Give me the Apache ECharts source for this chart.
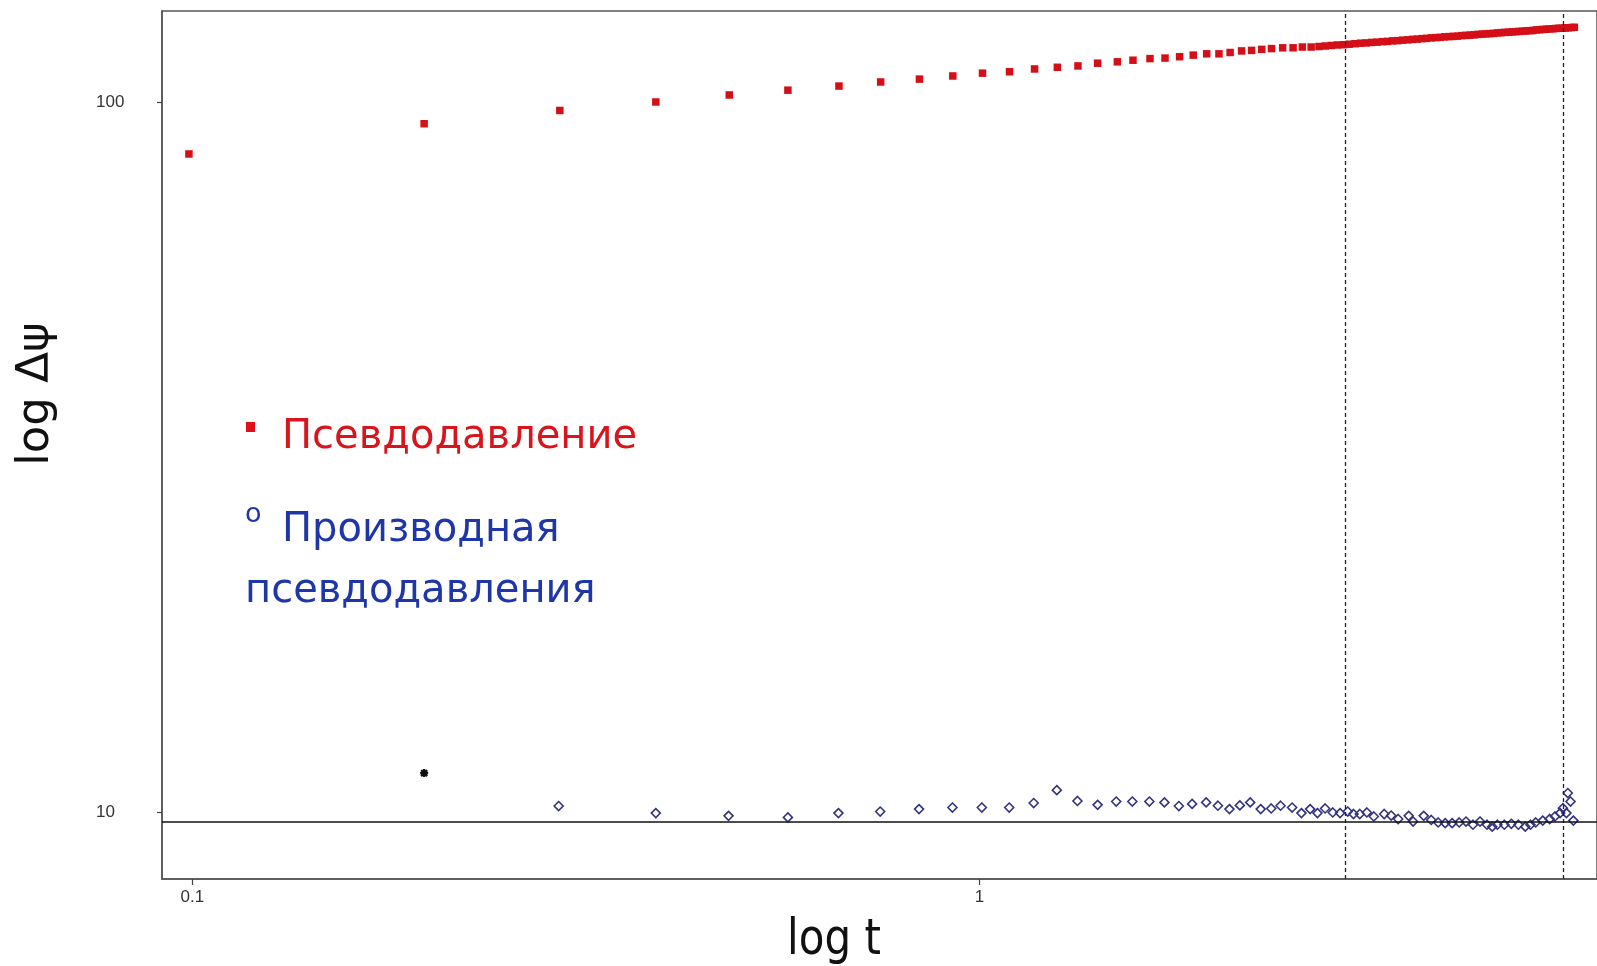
<!DOCTYPE html>
<html>
<head>
<meta charset="utf-8">
<title>log Δψ – log t</title>
<script src="https://cdn.jsdelivr.net/npm/echarts@6.0.0/dist/echarts.min.js"></script>
<style>
  html, body { margin: 0; padding: 0; background: #fff; }
  #main { width: 1597px; height: 966px; }
</style>
</head>
<body>
<div id="main"></div>
<script>
  // псевдодавление (красные квадраты)
  var tPress = [0.099, 0.197, 0.293, 0.388, 0.481, 0.571, 0.663, 0.749, 0.839, 0.925,
    1.009, 1.092, 1.175, 1.256, 1.334, 1.413, 1.497, 1.567, 1.647, 1.721,
    1.796, 1.869, 1.944, 2.015, 2.082, 2.153, 2.217, 2.284, 2.350, 2.428,
    2.503, 2.572, 2.639,
    2.70, 2.75, 2.80, 2.85, 2.90, 2.95, 3.00, 3.05, 3.10, 3.15,
    3.20, 3.25, 3.30, 3.35, 3.40, 3.45, 3.50, 3.55, 3.60, 3.65,
    3.70, 3.75, 3.80, 3.85, 3.90, 3.95, 4.00, 4.05, 4.10, 4.15,
    4.20, 4.25, 4.30, 4.35, 4.40, 4.45, 4.50, 4.55, 4.60, 4.65,
    4.70, 4.75, 4.80, 4.85, 4.90, 4.95, 5.00, 5.05, 5.10, 5.15,
    5.20, 5.25, 5.30, 5.35, 5.40, 5.45, 5.50, 5.55, 5.60, 5.65, 5.70];
  var pPress = [84.5, 93.2, 97.3, 100.0, 102.3, 103.9, 105.3, 106.7, 107.7, 108.8,
    109.8, 110.3, 111.3, 111.9, 112.4, 113.4, 113.9, 114.5, 115.1, 115.3,
    115.8, 116.4, 116.9, 116.9, 117.4, 118.0, 118.2, 118.6, 118.9, 119.2,
    119.2, 119.5, 119.5,
    119.7, 119.9, 120.1, 120.3, 120.4, 120.6, 120.8, 121.0, 121.1, 121.3,
    121.4, 121.6, 121.7, 121.9, 122.0, 122.2, 122.3, 122.5, 122.6, 122.8,
    122.9, 123.1, 123.2, 123.3, 123.5, 123.6, 123.7, 123.8, 124.0, 124.1,
    124.2, 124.3, 124.5, 124.6, 124.7, 124.8, 124.9, 125.1, 125.2, 125.3,
    125.4, 125.5, 125.6, 125.7, 125.8, 125.9, 126.0, 126.1, 126.3, 126.4,
    126.5, 126.6, 126.7, 126.8, 126.9, 127.0, 127.0, 127.1, 127.2, 127.3, 127.4];

  // производная псевдодавления (ромбы)
  var tDeriv = [0.292, 0.388, 0.480, 0.571, 0.662, 0.748, 0.838, 0.924, 1.007, 1.091,
    1.172, 1.254, 1.332, 1.413, 1.492, 1.564, 1.644, 1.718, 1.792, 1.863,
    1.941, 2.009, 2.078, 2.142, 2.208, 2.277, 2.348, 2.413, 2.496, 2.565,
    2.631, 2.688, 2.749, 2.811, 2.872, 2.937, 2.987, 3.043, 3.106, 3.170,
    3.268, 3.335, 3.404, 3.510, 3.556, 3.668, 3.750, 3.827, 3.906, 3.986,
    4.069, 4.151, 4.237, 4.325, 4.415, 4.482, 4.550, 4.644, 4.740, 4.839,
    4.937, 5.013, 5.090, 5.196, 5.303, 5.385, 5.467, 5.512, 5.569, 5.591,
    5.636, 5.683];
  var dDeriv = [10.21, 9.98, 9.89, 9.84, 9.98, 10.03, 10.11, 10.16, 10.16, 10.16,
    10.31, 10.75, 10.38, 10.25, 10.36, 10.36, 10.36, 10.33, 10.21, 10.28,
    10.33, 10.22, 10.11, 10.23, 10.33, 10.11, 10.13, 10.22, 10.16, 9.98,
    10.11, 9.98, 10.13, 10.00, 9.98, 10.03, 9.95, 9.95, 10.00, 9.87,
    9.95, 9.90, 9.79, 9.89, 9.71, 9.89, 9.76, 9.68, 9.66, 9.66,
    9.68, 9.71, 9.61, 9.71, 9.61, 9.55, 9.61, 9.61, 9.64, 9.61,
    9.55, 9.61, 9.68, 9.74, 9.79, 9.87, 9.98, 10.14, 9.98, 10.65,
    10.36, 9.74];

  // отдельная чёрная точка производной
  var tStar = [0.197];
  var dStar = [11.36];

  // вертикальные пунктиры и горизонтальная линия
  var vLines = [2.92, 5.52];
  var hLines = [9.71];

  var xTicks = [0.1, 1];
  var yTicks = [10, 100];

  function zip(a, b) {
    return a.map(function (v, i) { return [v, b[i]]; });
  }

  var markData = vLines.map(function (v) {
    return {xAxis: v, lineStyle: {type: [4, 3], color: '#222', width: 1.3}};
  }).concat(hLines.map(function (v) {
    return {yAxis: v, lineStyle: {type: 'solid', color: '#111', width: 1.5}};
  }));

  var redText = '#d8141c';
  var blueText = '#1e36a8';

  var myChart = echarts.init(document.getElementById('main'));
  myChart.setOption({
    animation: false,
    backgroundColor: '#fff',
    grid: {
      left: 162,
      right: -3,
      top: 11,
      bottom: 87,
      show: true,
      borderColor: '#555',
      borderWidth: 1.5
    },
    xAxis: {
      type: 'log',
      logBase: 10,
      min: 0.0915,
      max: 6.09,
      axisLine: {show: true, lineStyle: {color: '#555', width: 1.5}},
      axisTick: {show: true, customValues: xTicks, length: 6, lineStyle: {color: '#444', width: 1.2}},
      axisLabel: {
        customValues: xTicks,
        margin: 10,
        color: '#333',
        fontFamily: 'Liberation Sans',
        fontSize: 17,
        formatter: function (v) { return v >= 1 ? v.toFixed(0) : v.toFixed(1); }
      },
      splitLine: {show: false},
      minorTick: {show: false}
    },
    yAxis: {
      type: 'log',
      logBase: 10,
      min: 8.06,
      max: 134.3,
      axisLine: {show: true, lineStyle: {color: '#555', width: 1.5}},
      axisTick: {show: true, customValues: yTicks, length: 5, lineStyle: {color: '#444', width: 1.2}},
      axisLabel: {
        customValues: yTicks,
        align: 'left',
        margin: 66,
        color: '#333',
        fontFamily: 'Liberation Sans',
        fontSize: 17,
        formatter: function (v) { return v.toFixed(0); }
      },
      splitLine: {show: false},
      minorTick: {show: false}
    },
    series: [
      {
        name: 'Производная псевдодавления',
        type: 'scatter',
        symbol: 'diamond',
        symbolSize: 9,
        itemStyle: {color: 'rgba(255,255,255,0)', borderColor: '#34347e', borderWidth: 1.6, opacity: 1},
        data: zip(tDeriv, dDeriv),
        silent: true,
        markLine: {
          silent: true,
          symbol: ['none', 'none'],
          label: {show: false},
          data: markData
        }
      },
      {
        name: 'star',
        type: 'scatter',
        symbol: 'path://M0 4L8 4M4 0L4 8M1 1L7 7M7 1L1 7',
        symbolSize: 8,
        itemStyle: {color: '#111', borderColor: '#111', borderWidth: 2.2, opacity: 1},
        data: zip(tStar, dStar),
        silent: true
      },
      {
        name: 'Псевдодавление',
        type: 'scatter',
        symbol: 'rect',
        symbolSize: 7.5,
        itemStyle: {color: '#d50f17', opacity: 1},
        data: zip(tPress, pPress),
        silent: true
      }
    ],
    graphic: [
      // легенда
      {type: 'rect', shape: {x: 246, y: 422, width: 9, height: 10}, style: {fill: '#e01018'}},
      {type: 'text', x: 282, y: 438, style: {text: 'Псевдодавление', fontFamily: 'DejaVu Sans', fontSize: 40, fill: redText, verticalAlign: 'middle'}},
      {type: 'text', x: 245, y: 515, style: {text: 'о', fontFamily: 'DejaVu Sans', fontSize: 27, fill: blueText, verticalAlign: 'middle'}},
      {type: 'text', x: 282, y: 531, style: {text: 'Производная', fontFamily: 'DejaVu Sans', fontSize: 40, fill: blueText, verticalAlign: 'middle'}},
      {type: 'text', x: 245, y: 592, style: {text: 'псевдодавления', fontFamily: 'DejaVu Sans', fontSize: 40, fill: blueText, verticalAlign: 'middle'}},
      // подписи осей
      {type: 'text', x: 36, y: 394, rotation: Math.PI / 2, style: {text: 'log Δψ', fontFamily: 'DejaVu Sans', fontSize: 45, fill: '#111', align: 'center', verticalAlign: 'middle'}},
      {type: 'text', x: 834, y: 941, scaleX: 0.84, style: {text: 'log t', fontFamily: 'DejaVu Sans', fontSize: 50, fill: '#111', align: 'center', verticalAlign: 'middle'}}
    ]
  });
</script>
</body>
</html>
